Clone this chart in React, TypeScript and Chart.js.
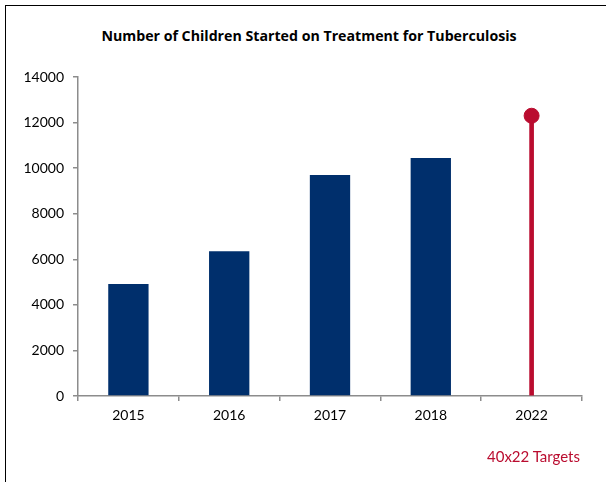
import React, { useEffect, useRef } from "react";
import { Chart, registerables } from "chart.js";

Chart.register(...registerables);

const categories = ["2015", "2016", "2017", "2018", "2022"];
const actualValues = [4920, 6350, 9700, 10450, null];
const targetValues = [null, null, null, null, 12300];
const yTicks = [0, 2000, 4000, 6000, 8000, 10000, 12000, 14000];

const NAVY = "#002F6C";
const RED = "#BA0C2F";
const AXIS = "#8c8c8c";
const FONT = "Lato, 'Open Sans', sans-serif";

export default function App() {
  const ref = useRef<HTMLCanvasElement | null>(null);

  useEffect(() => {
    if (!ref.current) return;
    const chart = new Chart(ref.current, {
      type: "bar",
      data: {
        labels: categories,
        datasets: [
          {
            label: "Actual",
            data: actualValues as any,
            backgroundColor: NAVY,
            barPercentage: 0.4,
            categoryPercentage: 1,
            grouped: false,
            order: 3,
          } as any,
          {
            label: "Target",
            data: targetValues as any,
            backgroundColor: RED,
            barThickness: 4,
            grouped: false,
            order: 2,
          } as any,
          {
            type: "line",
            label: "Target point",
            data: targetValues as any,
            showLine: false,
            pointRadius: 7.5,
            pointHoverRadius: 7.5,
            pointBackgroundColor: RED,
            pointBorderColor: RED,
            borderColor: RED,
            backgroundColor: RED,
            order: 1,
          } as any,
        ],
      },
      options: {
        animation: false,
        responsive: false,
        maintainAspectRatio: false,
        layout: { padding: { top: 77, right: 24, left: 0, bottom: 0 } },
        plugins: {
          legend: { display: false },
          title: { display: false },
          tooltip: { enabled: false },
        },
        scales: {
          x: {
            offset: true,
            grid: {
              display: true,
              offset: true,
              drawOnChartArea: false,
              drawTicks: true,
              tickLength: 5,
              color: AXIS,
              lineWidth: 1.5,
            },
            border: { display: true, color: AXIS, width: 1.5 },
            ticks: {
              color: "#000",
              font: { family: FONT, size: 14 },
              padding: 6,
            },
            afterFit: (s: any) => {
              s.height = 86;
            },
          },
          y: {
            min: 0,
            max: 14000,
            afterBuildTicks: (s: any) => {
              s.ticks = yTicks.map((v) => ({ value: v }));
            },
            grid: {
              display: true,
              drawOnChartArea: false,
              drawTicks: true,
              tickLength: 5,
              color: AXIS,
              lineWidth: 1.5,
            },
            border: { display: true, color: AXIS, width: 1.5 },
            ticks: {
              color: "#000",
              font: { family: FONT, size: 14 },
              padding: 9,
              callback: (v: any) => String(v),
            },
            afterFit: (s: any) => {
              s.width = 78;
            },
          },
        },
      },
    });
    return () => chart.destroy();
  }, []);

  return (
    <div
      style={{
        position: "fixed",
        left: 0,
        top: 0,
        width: 606,
        height: 482,
        overflow: "hidden",
        background: "#fff",
        fontFamily: FONT,
      }}
    >
      <div
        style={{
          position: "absolute",
          left: 5,
          top: 5,
          width: 640,
          height: 520,
          border: "1.5px solid #000",
        }}
      />
      <div
        style={{
          position: "absolute",
          left: 0,
          top: 27,
          width: 618,
          textAlign: "center",
          fontWeight: 700,
          fontSize: 14.2,
          fontFamily: "'Open Sans', sans-serif",
          lineHeight: "18px",
          color: "#000",
          whiteSpace: "nowrap",
        }}
      >
        Number of Children Started on Treatment for Tuberculosis
      </div>
      <canvas
        ref={ref}
        width={606}
        height={482}
        style={{ position: "absolute", left: 0, top: 0, width: 606, height: 482 }}
      />
      <div
        style={{
          position: "absolute",
          left: 487,
          top: 447,
          fontSize: 15,
          lineHeight: "18px",
          color: RED,
          whiteSpace: "nowrap",
        }}
      >
        40x22 Targets
      </div>
    </div>
  );
}
